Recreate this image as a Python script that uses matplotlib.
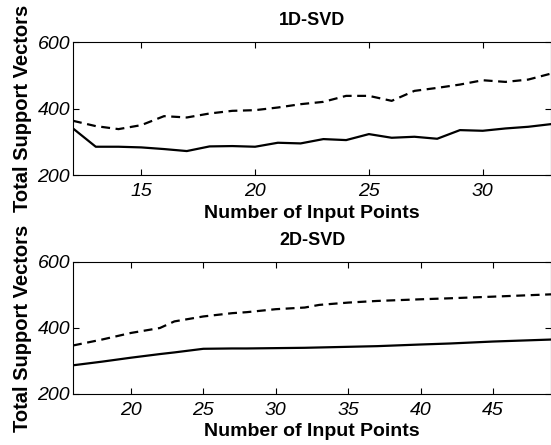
import matplotlib
matplotlib.use("Agg")
import matplotlib.pyplot as plt

# 1D-SVD panel
n_1d = list(range(12, 34))
solid_1d = [340, 285, 285, 283, 278, 272, 286, 287, 285, 297, 295, 308,
            305, 323, 312, 315, 309, 335, 333, 340, 345, 353]
dashed_1d = [363, 347, 338, 350, 377, 373, 385, 393, 395, 403, 413, 420,
             438, 438, 423, 453, 462, 472, 485, 480, 487, 505]

# 2D-SVD panel
n_2d = [16, 18, 20, 22, 23, 25, 27, 28, 30, 32, 33, 35, 37, 40, 42, 45, 49]
solid_2d = [287, 298, 310, 321, 326, 337, 338, 338, 339, 340, 341, 343,
            345, 350, 353, 359, 365]
dashed_2d = [347, 365, 385, 400, 420, 435, 445, 448, 457, 462, 470, 477,
             482, 487, 490, 495, 502]

panels = [
    ("1D-SVD", n_1d, solid_1d, dashed_1d, [15, 20, 25, 30]),
    ("2D-SVD", n_2d, solid_2d, dashed_2d, [20, 25, 30, 35, 40, 45]),
]

plt.rcParams['font.family'] = ['Liberation Sans', 'DejaVu Sans']

fig = plt.figure(figsize=(5.51, 4.45), dpi=100)
W, H = 551, 445
boxes = [(73, 42, 551, 175), (73, 262, 551, 394)]

for (title, x, s, d, ticks), (l, t, r, b) in zip(panels, boxes):
    ax = fig.add_axes([l / W, 1 - b / H, (r - l) / W, (b - t) / H])
    ax.plot(x, s, color='black', lw=1.6)
    ax.plot(x, d, color='black', lw=1.6, ls=(0, (4, 2.5)))
    ax.set_xlim(x[0], x[-1])
    ax.set_ylim(200, 600)
    ax.set_yticks([200, 400, 600])
    ax.set_xticks(ticks)
    ax.tick_params(direction='in', top=True, right=True, length=4,
                   labelsize=14)
    ax.tick_params(axis='x', pad=6)
    ax.tick_params(axis='y', pad=2)
    for lab in ax.get_xticklabels() + ax.get_yticklabels():
        lab.set_fontstyle('italic')
    for sp in ax.spines.values():
        sp.set_linewidth(0.8)
    ax.set_title(title, fontsize=13, fontweight='bold', pad=12)
    ax.set_xlabel("Number of Input Points", fontsize=14, fontweight='bold',
                  labelpad=3)
    ax.set_ylabel("Total Support Vectors", fontsize=14.5, fontweight='bold',
                  labelpad=4)

fig.savefig("out.png", dpi=100)
